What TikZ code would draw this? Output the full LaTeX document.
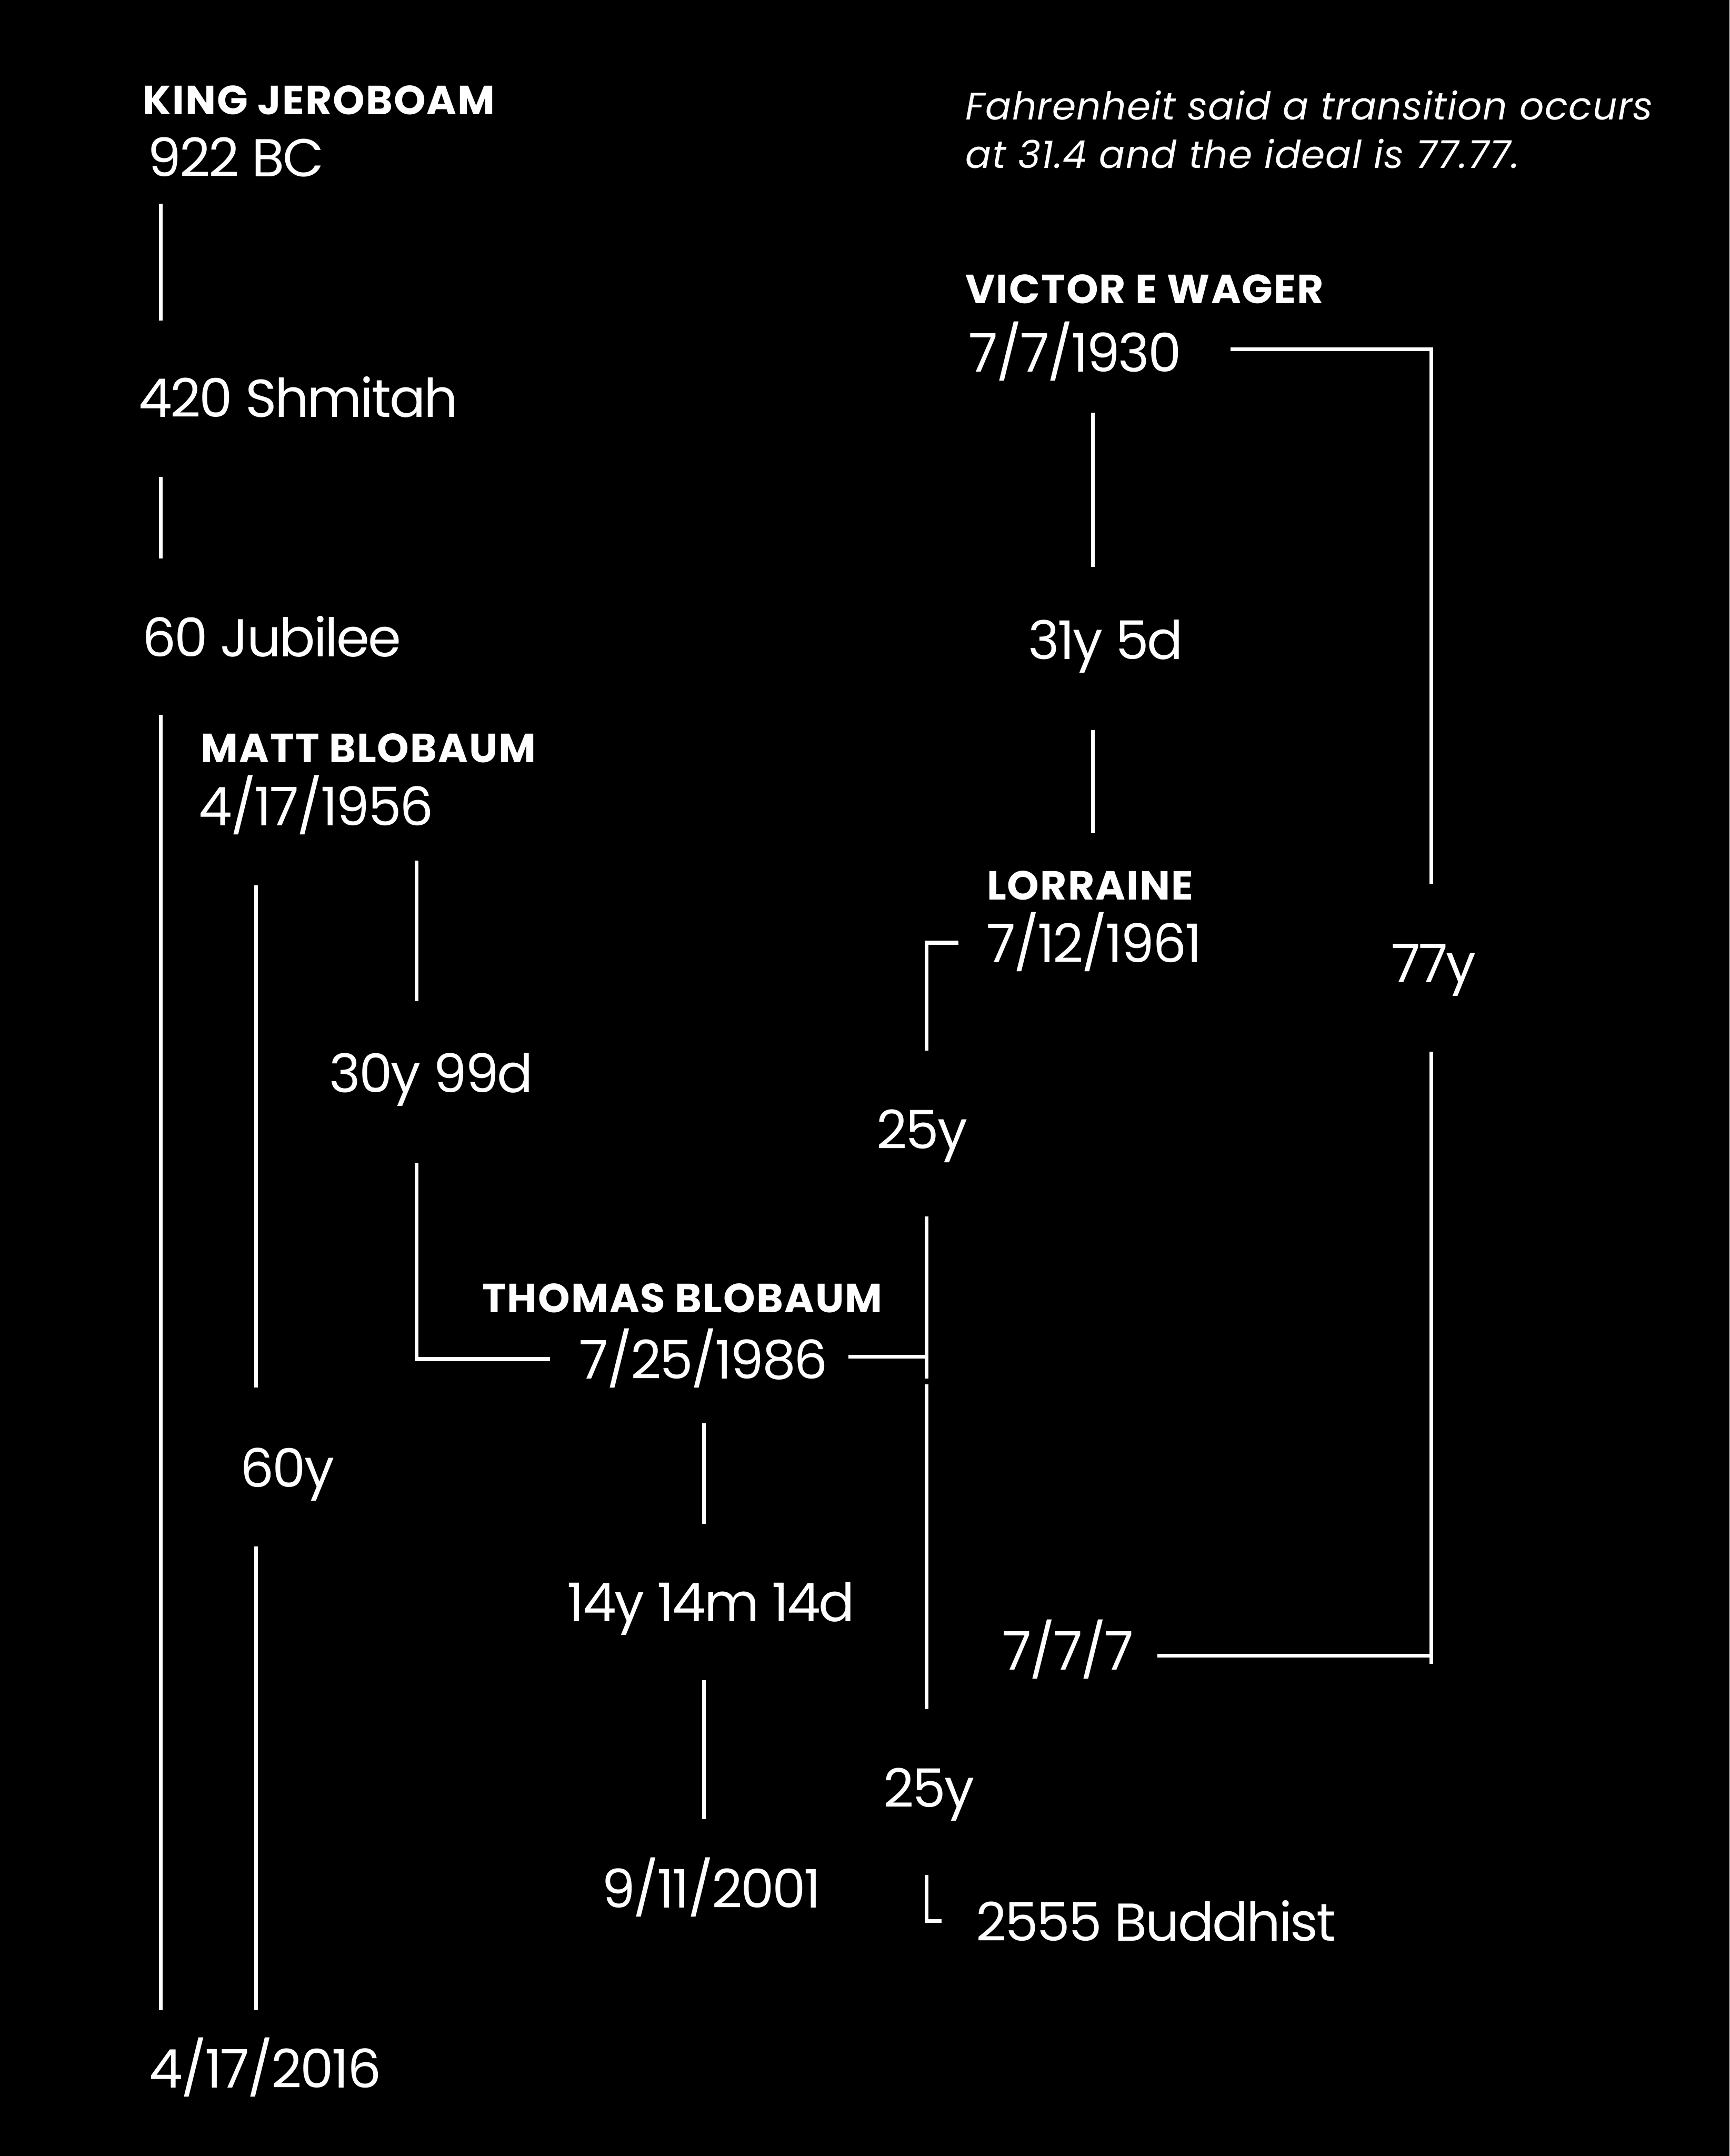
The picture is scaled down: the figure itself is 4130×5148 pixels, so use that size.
\documentclass[tikz,border=0pt]{standalone}
\usepackage{fontspec}
\setmainfont{Poppins}
\newfontfamily\stampfont[LetterSpace=-3.2]{Poppins}
\newfontfamily\personfont[LetterSpace=2.6]{Poppins}
\newfontfamily\remarkfont[LetterSpace=1.8]{Poppins}
\begin{document}
\begin{tikzpicture}[
    x=0.01cm, y=-0.01cm,
    person/.style={anchor=base west,inner sep=0pt,text=white,
                   font=\personfont\fontsize{27.6}{30}\selectfont\bfseries},
    stamp/.style={anchor=base west,inner sep=0pt,text=white,
                  font=\stampfont\fontsize{36.2}{40}\selectfont},
    remark/.style={anchor=base west,inner sep=0pt,text=white,
                   font=\remarkfont\fontsize{26}{32}\selectfont\itshape},
    link/.style={white,line width=2.6pt}]

    \fill[black] (0,0) rectangle (4130,5148);
    \useasboundingbox (0,0) rectangle (4130,5148);

    % Left column: Jeroboam
    \node[person] (jerob)   at (341,273)   {KING JEROBOAM};
    \node[stamp]  (bc)      at (352,422)   {922 BC};
    \node[stamp]  (shmitah) at (330,996)   {420 Shmitah};
    \node[stamp]  (jubilee) at (339,1568)  {60 Jubilee};
    \node[stamp]  (end)     at (356,4985)  {4/17/2016};

    % Matt
    \node[person] (matt)    at (479,1820)  {MATT BLOBAUM};
    \node[stamp]  (mattd)   at (474,1971)  {4/17/1956};
    \node[stamp]  (span30)  at (786,2608)  {30y 99d};
    \node[stamp]  (span60)  at (573,3551)  {60y};

    % Thomas
    \node[person] (thomas)  at (1151,3134) {THOMAS BLOBAUM};
    \node[stamp]  (thomd)   at (1383,3292) {7/25/1986};
    \node[stamp]  (span14)  at (1354,3872) {14y 14m 14d};
    \node[stamp]  (nine)    at (1436,4555) {9/11/2001};

    % Victor and Lorraine
    \node[remark] (note1)   at (2305,286)  {Fahrenheit said a transition occurs};
    \node[remark] (note2)   at (2305,401)  {at 31.4 and the ideal is 77.77.};
    \node[person] (victor)  at (2305,724)  {VICTOR E WAGER};
    \node[stamp]  (victd)   at (2313,888)  {7/7/1930};
    \node[stamp]  (span31)  at (2454,1574) {31y 5d};
    \node[person] (lorr)    at (2356,2148) {LORRAINE};
    \node[stamp]  (lorrd)   at (2355,2298) {7/12/1961};
    \node[stamp]  (span77)  at (3322,2346) {77y};
    \node[stamp]  (span25a) at (2093,2743) {25y};
    \node[stamp]  (seven)   at (2393,3987) {7/7/7};
    \node[stamp]  (span25b) at (2109,4315) {25y};
    \node[stamp]  (buddh)   at (2330,4635) {2555 Buddhist};

    % line ends
    \coordinate (a1) at (384,486);   \coordinate (a2) at (384,765);
    \coordinate (a3) at (384,1139);  \coordinate (a4) at (384,1333);
    \coordinate (a5) at (384,1707);  \coordinate (a6) at (384,4800);
    \coordinate (m1) at (611,2114);  \coordinate (m2) at (611,3313);
    \coordinate (m3) at (611,3693);  \coordinate (m4) at (611,4800);
    \coordinate (m5) at (995,2055);  \coordinate (m6) at (995,2390);
    \coordinate (m7) at (995,2777);  \coordinate (m8) at (1314,3245);
    \coordinate (t1) at (1681,3398); \coordinate (t2) at (1681,3638);
    \coordinate (t3) at (1681,4012); \coordinate (t4) at (1681,4343);
    \coordinate (t5) at (2026,3239); \coordinate (t6) at (2213,3239);
    \coordinate (r1) at (2213,2905); \coordinate (r2) at (2213,3292);
    \coordinate (r3) at (2213,3305); \coordinate (r4) at (2213,4081);
    \coordinate (l1) at (2289,2251); \coordinate (l2) at (2213,2509);
    \coordinate (b1) at (2213,4477); \coordinate (b2) at (2248,4587);
    \coordinate (v1) at (2610,985);  \coordinate (v2) at (2610,1353);
    \coordinate (v3) at (2610,1743); \coordinate (v4) at (2610,1990);
    \coordinate (w1) at (2938,834);  \coordinate (w2) at (3418,2110);
    \coordinate (w3) at (3418,2511); \coordinate (w4) at (3418,3973);
    \coordinate (w5) at (2764,3953);

    \draw[link] (a1) -- (a2);
    \draw[link] (a3) -- (a4);
    \draw[link] (a5) -- (a6);
    \draw[link] (m1) -- (m2);
    \draw[link] (m3) -- (m4);
    \draw[link] (m5) -- (m6);
    \draw[link] (m7) |- (m8);
    \draw[link] (t1) -- (t2);
    \draw[link] (t3) -- (t4);
    \draw[link] (t5) -- (t6);
    \draw[link] (r1) -- (r2);
    \draw[link] (r3) -- (r4);
    \draw[link] (l1) -| (l2);
    \draw[link] (b1) |- (b2);
    \draw[link] (v1) -- (v2);
    \draw[link] (v3) -- (v4);
    \draw[link] (w1) -| (w2);
    \draw[link] (w3) -- (w4);
    \draw[link] (w5) -- (w5 -| w4);
\end{tikzpicture}
\end{document}
